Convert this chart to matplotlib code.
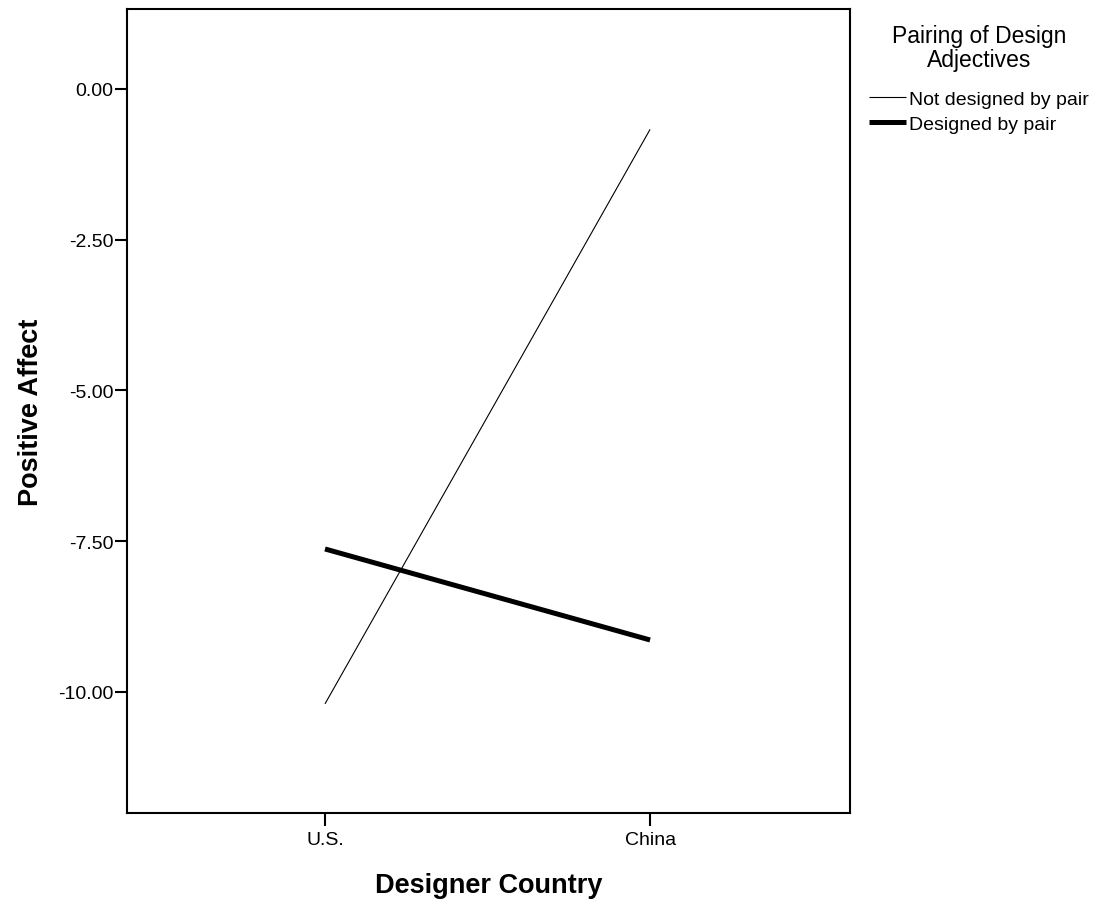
import matplotlib
matplotlib.use("Agg")
import matplotlib.pyplot as plt

plt.rcParams['font.family'] = ['Liberation Sans', 'DejaVu Sans']

countries = ["U.S.", "China"]
not_designed = [-10.20, -0.67]
designed = [-7.63, -9.14]
series_labels = ["Not designed by pair", "Designed by pair"]
yticks = [0.0, -2.5, -5.0, -7.5, -10.0]
ytick_labels = ["0.00", "-2.50", "-5.00", "-7.50", "-10.00"]

fig = plt.figure(figsize=(11.04, 9.03), dpi=100)
ax = fig.add_axes([126.7/1104, 1 - 814/903, (850 - 126.7)/1104, (814 - 10)/903])

xpos = list(range(len(countries)))
ax.plot(xpos, not_designed, color="black", lw=0.8, label=series_labels[0], solid_capstyle="butt")
ax.plot(xpos, designed, color="black", lw=3.6, label=series_labels[1], solid_capstyle="butt")

ax.set_xlim(-0.61, 1.615)
ax.set_ylim(-12.01, 1.327)
ax.set_xticks(xpos)
ax.set_xticklabels(countries)
ax.set_yticks(yticks)
ax.set_yticklabels(ytick_labels)
ax.tick_params(axis="both", labelsize=14, length=9, width=1.5, direction="out")
ax.tick_params(axis="y", pad=0.5)
ax.tick_params(axis="x", pad=4)
for s in ax.spines.values():
    s.set_linewidth(1.5)

ax.set_xlabel("Designer Country", fontsize=19.5, fontweight="bold", labelpad=17)
ax.set_ylabel("Positive Affect", fontsize=19.5, fontweight="bold", labelpad=10)

leg = ax.legend(loc="upper left", bbox_to_anchor=(869/1104, 1 - 25/903),
                bbox_transform=fig.transFigure, frameon=False,
                title="Pairing of Design\nAdjectives", title_fontsize=16.5,
                fontsize=14, handlelength=1.9, handletextpad=0.15,
                labelspacing=0.38, borderpad=0, borderaxespad=0)
leg.get_title().set_multialignment("center")
leg.get_title().set_linespacing(1.05)
leg._legend_box.sep = 14

fig.savefig("out.png", dpi=100)
